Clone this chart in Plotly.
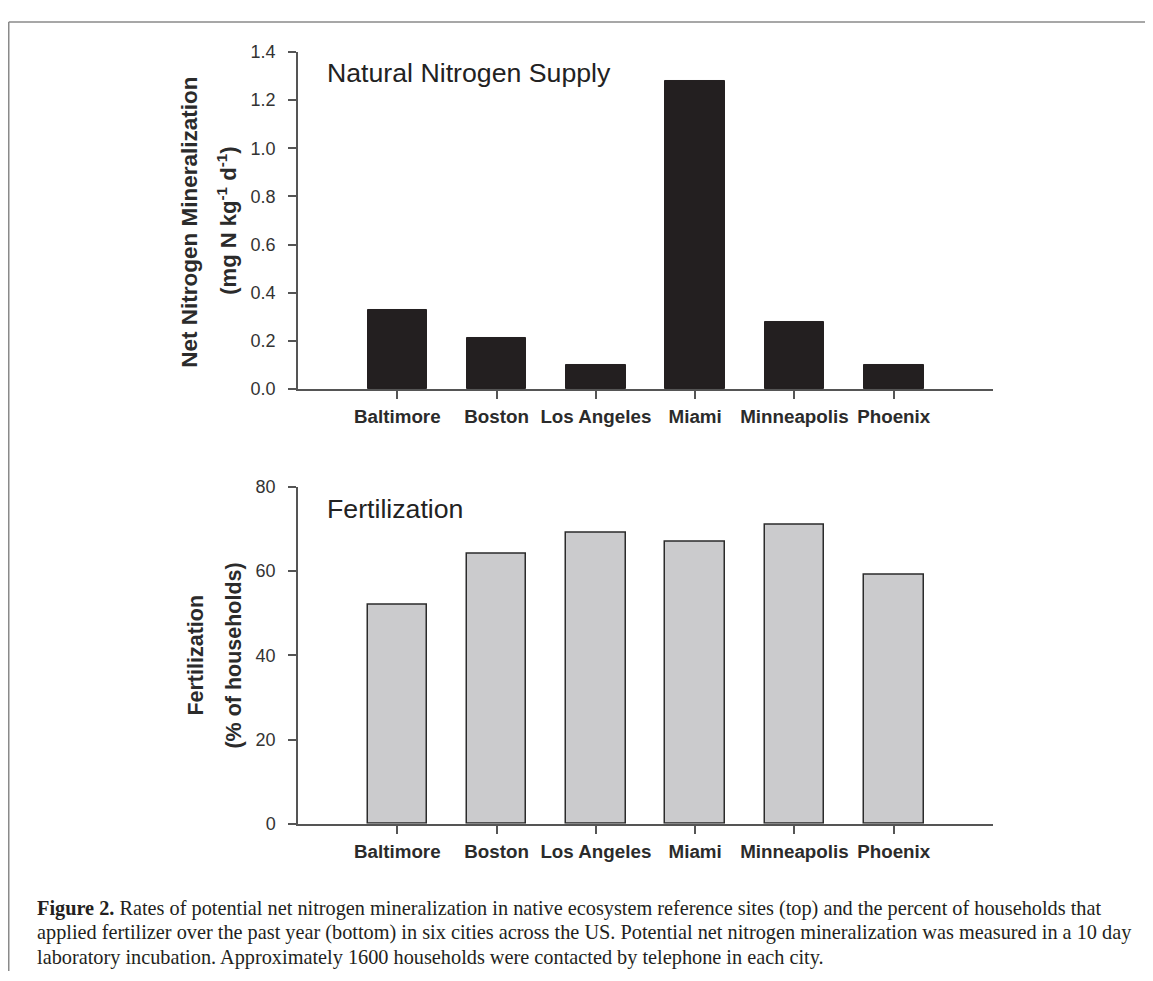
import plotly.graph_objects as go

# ---- data ----
cities = ["Baltimore", "Boston", "Los Angeles", "Miami", "Minneapolis", "Phoenix"]
mineralization = [0.33, 0.21, 0.10, 1.28, 0.28, 0.10]
fertilization = [52, 64, 69, 67, 71, 59]
top_yticks = [0.0, 0.2, 0.4, 0.6, 0.8, 1.0, 1.2, 1.4]
bottom_yticks = [0, 20, 40, 60, 80]

top_panel_title = "Natural Nitrogen Supply"
bottom_panel_title = "Fertilization"
top_ytitle = ["Net Nitrogen Mineralization", "(mg N kg<sup>-1</sup> d<sup>-1</sup>)"]
bottom_ytitle = ["Fertilization", "(% of households)"]
caption_lines = [
    "<b>Figure 2.</b> Rates of potential net nitrogen mineralization in native ecosystem reference sites (top) and the percent of households that",
    "applied fertilizer over the past year (bottom) in six cities across the US. Potential net nitrogen mineralization was measured in a 10 day",
    "laboratory incubation. Approximately 1600 households were contacted by telephone in each city.",
]

OFF = 8  # default page body margin
W, H = 1153 - OFF, 981 - OFF


def px(x):
    return (x - OFF) / W


def py(y):
    return 1 - (y - OFF) / H


fig = go.Figure()
fig.add_trace(go.Bar(x=cities, y=mineralization, width=0.6,
                     marker=dict(color="#231f20", line=dict(color="#231f20", width=1)),
                     xaxis="x", yaxis="y", showlegend=False))
fig.add_trace(go.Bar(x=cities, y=fertilization, width=0.6,
                     marker=dict(color="#cbcbcd", line=dict(color="#2b2b2b", width=1.5)),
                     xaxis="x2", yaxis="y2", showlegend=False))

axis_common = dict(showline=True, linecolor="#555555", linewidth=1.5, ticks="outside",
                   ticklen=8, tickwidth=1.5, tickcolor="#555555", showgrid=False,
                   zeroline=False, mirror=False)
xfont = dict(family="Liberation Sans, Arial, sans-serif", size=18.8, color="#2b2b2b", weight="bold")
yfont = dict(family="Liberation Sans, Arial, sans-serif", size=18, color="#333333")

xdom = [px(298), px(993)]
fig.update_layout(
    width=W, height=H, margin=dict(l=0, r=0, t=0, b=0),
    paper_bgcolor="white", plot_bgcolor="white", bargap=0,
    xaxis=dict(domain=xdom, anchor="y", range=[-1, 6], tickfont=xfont,
               ticklabelstandoff=2, **axis_common),
    yaxis=dict(domain=[py(386.7), py(42.7)], anchor="x", range=[0, 1.4],
               tickvals=top_yticks, tickformat=".1f", tickfont=yfont,
               ticklabelstandoff=9, **axis_common),
    xaxis2=dict(domain=xdom, anchor="y2", range=[-1, 6], tickfont=xfont,
                ticklabelstandoff=2, **axis_common),
    yaxis2=dict(domain=[py(830.7), py(486.7)], anchor="x2", range=[0, 80],
                tickvals=bottom_yticks, tickfont=yfont,
                ticklabelstandoff=9, **axis_common),
)

ann = []
# panel titles
pfont = dict(family="Liberation Sans, Arial, sans-serif", size=26.7, color="#222222")
ann.append(dict(text=top_panel_title, x=px(325), y=py(64), xref="paper", yref="paper",
                xanchor="left", yanchor="middle", showarrow=False, font=pfont))
ann.append(dict(text=bottom_panel_title, x=px(325), y=py(509), xref="paper", yref="paper",
                xanchor="left", yanchor="middle", showarrow=False, font=pfont))
# y titles
for txt, xx, yy, sz in [(top_ytitle[0], 190, 217, 22.5), (top_ytitle[1], 227, 215, 22),
                        (bottom_ytitle[0], 196, 659, 21.5), (bottom_ytitle[1], 234, 659, 21.5)]:
    ann.append(dict(text=txt, x=px(xx), y=py(yy), xref="paper", yref="paper",
                    xanchor="center", yanchor="middle", textangle=-90, showarrow=False,
                    font=dict(family="Liberation Sans, Arial, sans-serif", size=sz,
                              color="#2b2b2b", weight="bold")))
# caption
cfont = dict(family="Liberation Serif, Times New Roman, serif", size=20.3, color="#231f20")
for i, line in enumerate(caption_lines):
    ann.append(dict(text=line, x=px(35), y=py(917 + 25 * i), xref="paper", yref="paper",
                    xanchor="left", yanchor="middle", showarrow=False, font=cfont))
fig.update_layout(annotations=ann)

# frame lines
fig.add_shape(type="line", xref="paper", yref="paper", x0=px(8.75), y0=py(12), x1=1, y1=py(12),
              line=dict(color="#8a8a8a", width=1.5))
fig.add_shape(type="line", xref="paper", yref="paper", x0=px(8.75), y0=py(12), x1=px(8.75), y1=0,
              line=dict(color="#8a8a8a", width=1.5))

fig.write_html("out.html")
